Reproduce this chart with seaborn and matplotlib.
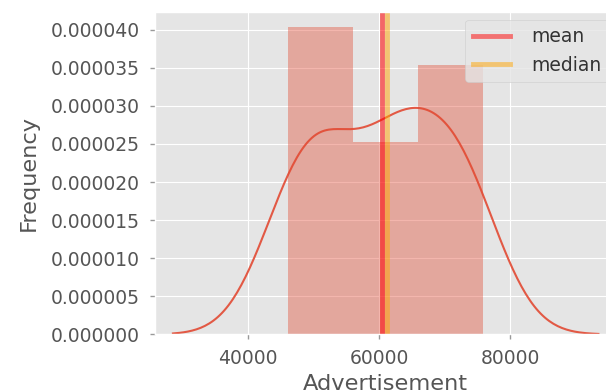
import numpy as np
import pandas as pd
import matplotlib
matplotlib.use("Agg")
import matplotlib.pyplot as plt
from matplotlib.ticker import FormatStrFormatter, MultipleLocator
import seaborn as sns

advertisement = [46150, 46200, 46200, 49600, 51100, 52100, 52500, 54650,
                 61200, 61200, 61200, 63600, 63650,
                 66000, 68200, 72300, 72350, 72400, 72400, 75850]

df = pd.DataFrame({"Advertisement": advertisement})

plt.style.use("ggplot")
plt.rcParams["font.size"] = 13.5

fig = plt.figure(figsize=(6.06, 3.92), dpi=100)
ax = fig.add_axes([0.255, 0.147, 0.762, 0.822])

sns.histplot(data=df, x="Advertisement", stat="density", bins=3,
             color="#E24A33", alpha=0.4, edgecolor="none", ax=ax)
# old distplot/statsmodels scott bandwidth is a bit wider than scipy's
sns.kdeplot(data=df, x="Advertisement", color="#E24A33", lw=1.5,
            bw_adjust=1.0687, alpha=0.9, ax=ax)

mean_val = df["Advertisement"].mean()
median_val = df["Advertisement"].median()
ax.axvline(median_val, color="orange", alpha=0.5, lw=3.5)
ax.axvline(mean_val, color="red", alpha=0.55, lw=3.5)

# legend order: mean, median
h_mean = plt.Line2D([], [], color="red", alpha=0.5, lw=3.5)
h_median = plt.Line2D([], [], color="orange", alpha=0.5, lw=3.5)
ax.legend([h_mean, h_median], ["mean", "median"], loc="upper right",
          borderaxespad=0.4, handletextpad=1.1, labelcolor="#333333")

ax.yaxis.set_major_locator(MultipleLocator(0.000005))
ax.yaxis.set_major_formatter(FormatStrFormatter("%.6f"))
ax.set_xticks([40000, 60000, 80000])
ax.set_xlim(25735, 96190)
ax.set_ylim(0, 0.0000423)
ax.tick_params(length=3.5, width=1, color="#999999", pad=7)
ax.set_xlabel("Advertisement")
ax.set_ylabel("Frequency", labelpad=8.5)

fig.savefig("out.png", dpi=100)
